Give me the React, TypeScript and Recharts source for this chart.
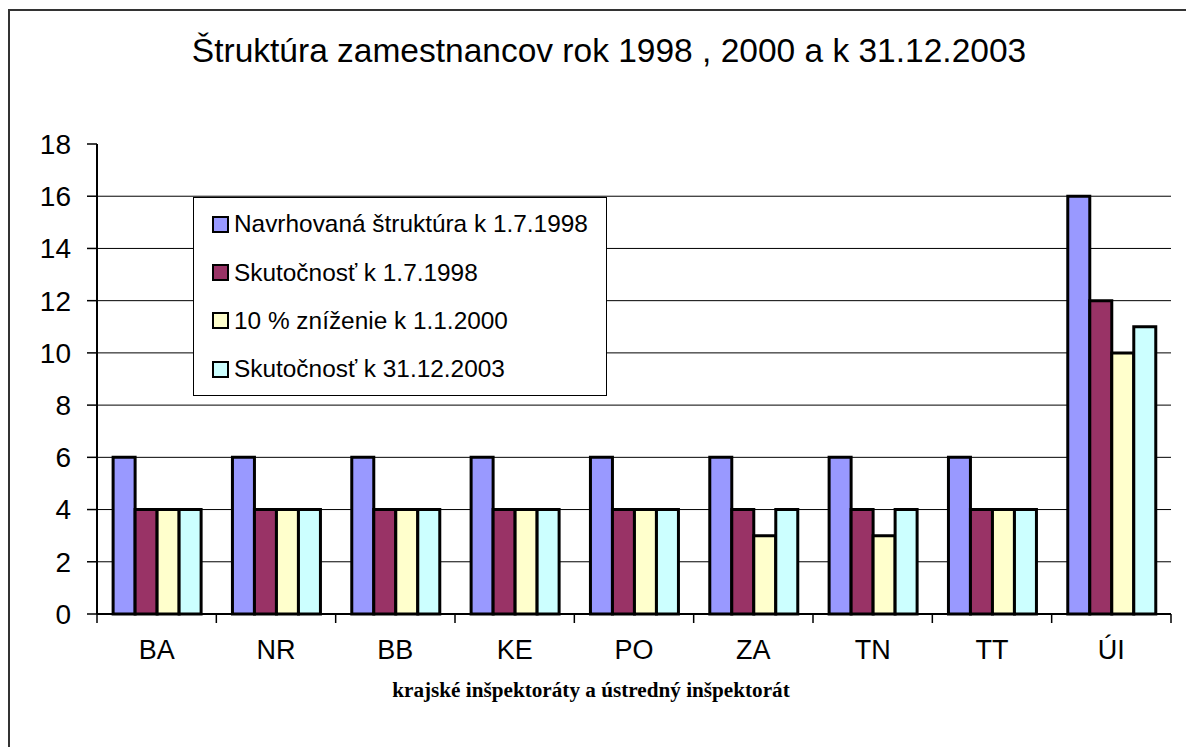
import React from 'react'
import { BarChart, Bar, XAxis, YAxis, CartesianGrid, Legend, Label } from 'recharts'

const categories = ['BA', 'NR', 'BB', 'KE', 'PO', 'ZA', 'TN', 'TT', 'ÚI']
const navrhovana = [6, 6, 6, 6, 6, 6, 6, 6, 16]
const skutocnost1998 = [4, 4, 4, 4, 4, 4, 4, 4, 12]
const znizenie2000 = [4, 4, 4, 4, 4, 3, 3, 4, 10]
const skutocnost2003 = [4, 4, 4, 4, 4, 4, 4, 4, 11]
const yTicks = [0, 2, 4, 6, 8, 10, 12, 14, 16, 18]
const gridValues = [2, 4, 6, 8, 10, 12, 14, 16]

const series = [
  { key: 'navrhovana', name: 'Navrhovaná štruktúra k 1.7.1998', color: '#9999FF' },
  { key: 'skut1998', name: 'Skutočnosť k 1.7.1998', color: '#993366' },
  { key: 'zniz2000', name: '10 % zníženie k 1.1.2000', color: '#FFFFCC' },
  { key: 'skut2003', name: 'Skutočnosť k 31.12.2003', color: '#CCFFFF' },
]

const data = categories.map((name, i) => ({
  name,
  navrhovana: navrhovana[i],
  skut1998: skutocnost1998[i],
  zniz2000: znizenie2000[i],
  skut2003: skutocnost2003[i],
}))

const SANS = '"Liberation Sans", Arial, sans-serif'
const TICK_GAP = 26

// category label plus the tick mark at the left boundary of the band (Excel style)
function CategoryTick({ x, y, payload, index }: any) {
  const half = payload?.offset ?? 0
  const axisY = y - TICK_GAP
  return (
    <g>
      <line x1={x - half} x2={x - half} y1={axisY} y2={axisY + 9} stroke="#000" strokeWidth={1.5} />
      {index === categories.length - 1 && (
        <line x1={x + half} x2={x + half} y1={axisY} y2={axisY + 9} stroke="#000" strokeWidth={1.5} />
      )}
      <text x={x} y={y} dy="0.71em" textAnchor="middle" fill="#000" fontSize={27} fontFamily={SANS}>
        {payload.value}
      </text>
    </g>
  )
}

function LegendBox({ payload }: any) {
  const order = series.map((s) => s.key)
  const items = [...(payload || [])].sort((a: any, b: any) => order.indexOf(a.dataKey) - order.indexOf(b.dataKey))
  return (
    <div style={{ paddingTop: 2, fontFamily: SANS, fontSize: 24.4, color: '#000' }}>
      {items.map((e: any) => (
        <div key={e.value} style={{ display: 'flex', alignItems: 'center', height: 48.4, paddingLeft: 18 }}>
          <span style={{ width: 13, height: 13, border: '2px solid #000', background: e.color, marginRight: 5, flex: 'none' }} />
          <span style={{ whiteSpace: 'nowrap' }}>{e.value}</span>
        </div>
      ))}
    </div>
  )
}

export default function App() {
  return (
    <div style={{ position: 'absolute', left: 0, top: 0, width: 1186, height: 747, background: '#fff', overflow: 'hidden' }}>
      <div style={{ position: 'absolute', left: 8, top: 9, width: 1300, height: 900, borderTop: '2px solid #333', borderLeft: '2px solid #333' }} />
      <div style={{ position: 'absolute', left: 0, width: 1218, top: 33, textAlign: 'center', fontFamily: SANS, fontSize: 33.5, lineHeight: '36px', color: '#000', whiteSpace: 'nowrap' }}>
        Štruktúra zamestnancov rok 1998 , 2000 a k 31.12.2003
      </div>
      <div style={{ position: 'absolute', left: 0, top: 0 }}>
        <BarChart width={1186} height={747} data={data} margin={{ top: 144, right: 15, bottom: 73, left: 9 }} barCategoryGap="13.5%" barGap={0}>
          <CartesianGrid vertical={false} horizontalValues={gridValues} stroke="#000" strokeWidth={1} />
          <XAxis xAxisId="main" dataKey="name" height={60} tickLine={false} tickSize={0} tickMargin={TICK_GAP} axisLine={{ stroke: '#000', strokeWidth: 2 }} tick={<CategoryTick />} interval={0}>
            <Label value="krajské inšpektoráty a ústredný inšpektorát" position="bottom" offset={8} dx={-43} style={{ fontFamily: '"Liberation Serif", "Times New Roman", serif', fontWeight: 'bold', fontSize: 21.2, fill: '#000' }} />
          </XAxis>
          <XAxis xAxisId="t" orientation="top" type="number" domain={[0, 9]} allowDataOverflow height={0} tick={false} tickLine={false} axisLine={{ stroke: '#c0c0c0', strokeWidth: 2 }} />
          <YAxis domain={[0, 18]} ticks={yTicks} interval={0} width={88} tickSize={10} tickMargin={16} axisLine={{ stroke: '#000', strokeWidth: 2 }} tickLine={{ stroke: '#000', strokeWidth: 1.5 }} tick={{ fill: '#000', fontSize: 28, fontFamily: SANS }} />
          <YAxis yAxisId="r" orientation="right" domain={[0, 18]} width={0} tick={false} tickLine={false} axisLine={{ stroke: '#c0c0c0', strokeWidth: 2 }} />
          <Legend layout="vertical" align="center" verticalAlign="middle" content={<LegendBox />}
            wrapperStyle={{ left: 193, top: 197, width: 414, height: 199, border: '1px solid #000', background: '#fff', boxSizing: 'border-box' }} />
          {series.map((s) => (
            <Bar key={s.key} xAxisId="main" dataKey={s.key} name={s.name} fill={s.color} stroke="#000" strokeWidth={3} isAnimationActive={false} />
          ))}
        </BarChart>
      </div>
    </div>
  )
}
